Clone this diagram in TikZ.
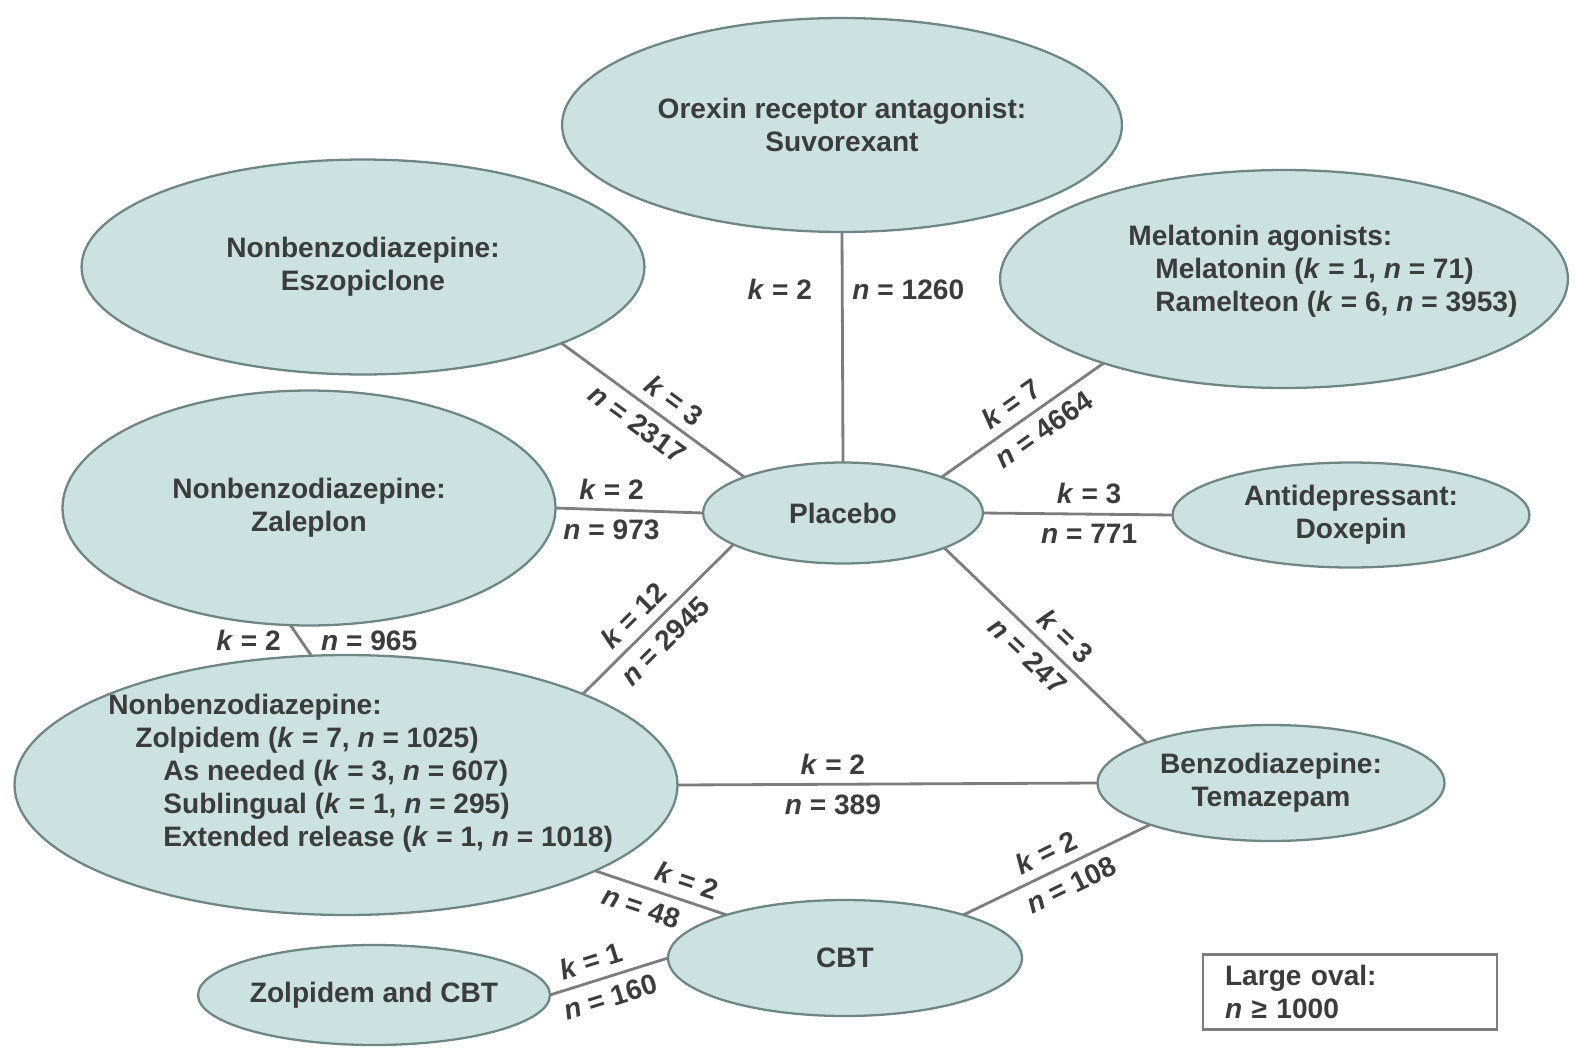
\documentclass[tikz,border=0pt]{standalone}
\usepackage{fontspec}
\setmainfont{Liberation Sans}
\usepackage{tikz}
\usetikzlibrary{shapes.geometric}

\definecolor{ovalfill}{RGB}{203,226,224}
\definecolor{ovaldraw}{RGB}{110,135,133}
\definecolor{linkgray}{RGB}{125,125,125}
\definecolor{textgray}{RGB}{60,60,60}

\newcommand{\kv}[1]{\textit{k} = #1}
\newcommand{\nv}[1]{\textit{n} = #1}

\tikzset{
  oval/.style={ellipse, draw=ovaldraw, fill=ovalfill, line width=1.3pt,
    inner sep=0pt, outer sep=0pt, align=center, text=textgray,
    font=\fontsize{16}{18.8}\selectfont\bfseries},
  txt/.style={inner sep=0pt, align=left, text=textgray,
    font=\fontsize{16}{18.8}\selectfont\bfseries},
  link/.style={draw=linkgray, line width=1.6pt},
  lbl/.style={text=textgray, inner sep=5pt,
    font=\fontsize{16}{18.8}\selectfont\bfseries}
}

\begin{document}
\begin{tikzpicture}[x=0.02cm, y=-0.02cm]
    \useasboundingbox (0,0) rectangle (1578,1058);

    % Treatment ovals
    \node[oval, minimum width=11.2cm, minimum height=4.28cm] (orx) at (842,125) {Orexin receptor antagonist:\\Suvorexant};
    \node[oval, minimum width=11.26cm, minimum height=4.3cm] (esz) at (363,267) {Nonbenzodiazepine:\\Eszopiclone};
    \node[oval, minimum width=11.36cm, minimum height=4.36cm] (mel) at (1284,279) {};
    \node[oval, minimum width=9.86cm, minimum height=4.7cm] (zal) at (309,508) {Nonbenzodiazepine:\\Zaleplon};
    \node[oval, minimum width=5.6cm, minimum height=2.02cm] (plac) at (843,513) {Placebo};
    \node[oval, minimum width=7.14cm, minimum height=2.1cm] (dox) at (1351,515) {Antidepressant:\\Doxepin};
    \node[oval, minimum width=13.26cm, minimum height=5.2cm] (zolp) at (346,785) {};
    \node[oval, minimum width=6.94cm, minimum height=2.32cm] (tema) at (1271,783) {Benzodiazepine:\\Temazepam};
    \node[oval, minimum width=7.08cm, minimum height=2.32cm] (cbt) at (845,958) {CBT};
    \node[oval, minimum width=7.04cm, minimum height=2cm] (zcbt) at (374,995) {Zolpidem and CBT};

    % Texts of the two big ovals
    \node[txt, anchor=west] (melT) at (1128,271) {Melatonin agonists:\\
      \hspace*{0.54cm}Melatonin (\kv{1}, \nv{71})\\
      \hspace*{0.54cm}Ramelteon (\kv{6}, \nv{3953})};
    \node[txt, anchor=west] (zolpT) at (108,773) {Nonbenzodiazepine:\\
      \hspace*{0.54cm}Zolpidem (\kv{7}, \nv{1025})\\
      \hspace*{1.1cm}As needed (\kv{3}, \nv{607})\\
      \hspace*{1.1cm}Sublingual (\kv{1}, \nv{295})\\
      \hspace*{1.1cm}Extended release (\kv{1}, \nv{1018})};

    % Comparisons
    \draw[link] (orx.south) -- node[lbl, left=0.4cm, pos=0.25] {\kv{2}} node[lbl, right=0cm, pos=0.25] {\nv{1260}} (plac.north);
    \draw[link] (esz.-21) -- node[lbl, sloped, above, pos=0.55] {\kv{3}} node[lbl, sloped, below, pos=0.48] {\nv{2317}} (plac.160);
    \draw[link] (zal.east) -- node[lbl, above, pos=0.38] {\kv{2}} node[lbl, below, pos=0.38] {\nv{973}} (plac.west);
    \draw[link] (zolp.21) -- node[lbl, sloped, above, pos=0.43] {\kv{12}} node[lbl, sloped, below, pos=0.45] {\nv{2945}} (plac.-164);
    \draw[link] (zal.261) -- node[lbl, left=0.2cm] {\kv{2}} node[lbl, right=0.2cm] {\nv{965}} (zolp.105);
    \draw[link] (plac.20) -- node[lbl, sloped, above, pos=0.5] {\kv{7}} node[lbl, sloped, below, pos=0.56] {\nv{4664}} (mel.205);
    \draw[link] (plac.east) -- node[lbl, above, pos=0.56] {\kv{3}} node[lbl, below, pos=0.56] {\nv{771}} (dox.west);
    \draw[link] (plac.-19) -- node[lbl, sloped, above, pos=0.53] {\kv{3}} node[lbl, sloped, below, pos=0.48] {\nv{247}} (tema.162);
    \draw[link] (zolp.east) -- node[lbl, above, pos=0.37] {\kv{2}} node[lbl, below, pos=0.37] {\nv{389}} (tema.west);
    \draw[link] (zolp.-19.5) -- node[lbl, sloped, above, pos=0.65] {\kv{2}} node[lbl, sloped, below, pos=0.4] {\nv{48}} (cbt.160);
    \draw[link] (zcbt.east) -- node[lbl, sloped, above, pos=0.4] {\kv{1}} node[lbl, sloped, below, pos=0.46] {\nv{160}} (cbt.west);
    \draw[link] (cbt.20) -- node[lbl, sloped, above, pos=0.49] {\kv{2}} node[lbl, sloped, below, pos=0.53] {\nv{108}} (tema.199);

    % Legend
    \node[txt, draw=linkgray, line width=1.2pt, text width=5cm, inner xsep=0.44cm,
      minimum height=1.5cm] (legend) at (1350,992) {Large oval:\\\textit{n} ≥ 1000};
\end{tikzpicture}
\end{document}
